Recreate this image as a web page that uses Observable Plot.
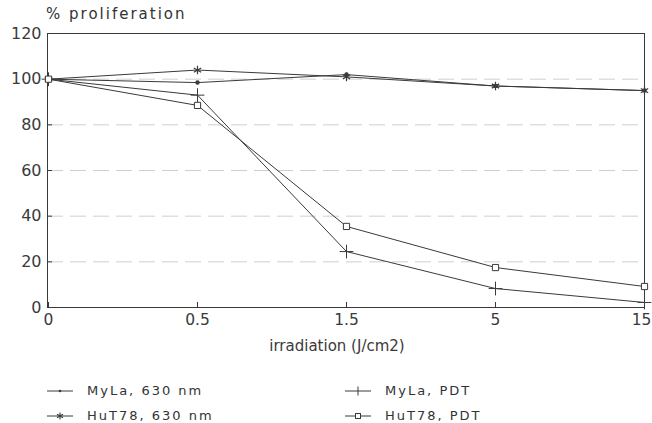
<!DOCTYPE html>
<html>
<head>
<meta charset="utf-8">
<script src="https://cdn.jsdelivr.net/npm/d3@7"></script>
<script src="https://cdn.jsdelivr.net/npm/@observablehq/plot@0.6"></script>
<style>
  body { margin: 0; background: #fff; font-family: "DejaVu Sans", sans-serif; color: #333; }
  #title { position: absolute; left: 46px; top: 5px; font-size: 15px; letter-spacing: 2px; }
  #chart { position: absolute; left: 0; top: 0; }
  .leg { position: absolute; font-size: 13px; letter-spacing: 2px; display: flex; align-items: center; }
  .leg svg { margin-right: 14px; }
</style>
</head>
<body>
<div id="chart"></div>
<div id="title">% proliferation</div>
<div id="legend"></div>
<script>
const doses = ["0", "0.5", "1.5", "5", "15"];
const myla630 = [100, 98.5, 102, 97, 95];
const hut630 = [100, 104, 101, 97, 95];
const mylaPDT = [100, 93, 24.5, 8.3, 2.2];
const hutPDT = [100, 88.5, 35.5, 17.5, 9.2];
const seriesNames = ["MyLa, 630 nm", "HuT78, 630 nm", "MyLa, PDT", "HuT78, PDT"];
const yTicks = [0, 20, 40, 60, 80, 100, 120];

const seriesVals = [myla630, hut630, mylaPDT, hutPDT];
const data = seriesNames.flatMap((s, i) => doses.map((d, j) => ({series: s, dose: d, value: seriesVals[i][j]})));
const ink = "#3a3a3a";

const chart = Plot.plot({
  width: 652,
  height: 360,
  marginTop: 33,
  marginLeft: 47,
  marginRight: 8,
  marginBottom: 53,
  style: {fontFamily: "DejaVu Sans, sans-serif", fontSize: "14px", color: ink, background: "#fff"},
  x: {type: "point", domain: doses, padding: 0, label: null},
  y: {domain: [0, 120], label: null},
  marks: [
    Plot.ruleY(yTicks.slice(1, -1), {stroke: "#cfcfcf", strokeDasharray: "16,7", strokeWidth: 1}),
    Plot.frame({stroke: ink, strokeWidth: 1}),
    Plot.axisY({ticks: yTicks, tickSize: -5, tickPadding: 11, fontSize: 16, style: {letterSpacing: "2.5px"}, label: null}),
    Plot.axisX({ticks: doses, tickSize: -5, label: null, tickFormat: () => ""}),
    Plot.text(doses.slice(0, -1), {x: d => d, frameAnchor: "bottom", dy: 17, fontSize: 15.5, fill: ink, style: {letterSpacing: "1px"}}),
    Plot.text(doses.slice(-1), {x: d => d, frameAnchor: "bottom", dy: 17, dx: -3, fontSize: 15.5, fill: ink, style: {letterSpacing: "0px"}}),
    Plot.text(["irradiation (J/cm2)"], {frameAnchor: "bottom", dy: 43, dx: -9, fontSize: 15, fill: ink, style: {letterSpacing: "2.2px"}}),
    Plot.line(data, {x: "dose", y: "value", z: "series", stroke: ink, strokeWidth: 1}),
    Plot.dot(data.filter(d => d.series === seriesNames[0]), {x: "dose", y: "value", r: 1.5, fill: ink, stroke: ink}),
    Plot.dot(data.filter(d => d.series === seriesNames[1]), {x: "dose", y: "value", symbol: "asterisk", r: 4, stroke: ink, strokeWidth: 1.2}),
    Plot.dot(data.filter(d => d.series === seriesNames[2]), {x: "dose", y: "value", symbol: "plus", r: 4.5, stroke: ink, strokeWidth: 1}),
    Plot.dot(data.filter(d => d.series === seriesNames[3]), {x: "dose", y: "value", symbol: "square", r: 3.5, stroke: ink, fill: "#fff", strokeWidth: 1})
  ]
});
document.getElementById("chart").append(chart);

// legend
const legendPos = [[47, 383], [47, 408], [345, 383], [345, 408]];
const symbolsSvg = [
  '<circle cx="13" cy="6" r="1.3" fill="' + ink + '"/>',
  '<path d="M13,2.5 V9.5 M10,4.2 L16,7.8 M10,7.8 L16,4.2" stroke="' + ink + '" stroke-width="1.1"/>',
  '<path d="M13,1.5 V10.5" stroke="' + ink + '"/>',
  '<rect x="10.5" y="3.5" width="5" height="5" fill="#fff" stroke="' + ink + '"/>'
];
const legendEl = document.getElementById("legend");
seriesNames.forEach((s, i) => {
  const div = document.createElement("div");
  div.className = "leg";
  div.style.left = legendPos[i][0] + "px";
  div.style.top = legendPos[i][1] + "px";
  div.innerHTML = '<svg width="26" height="12"><line x1="0" y1="6" x2="26" y2="6" stroke="' + ink + '"/>' + symbolsSvg[i] + '</svg><span>' + s + '</span>';
  legendEl.append(div);
});
</script>
</body>
</html>
